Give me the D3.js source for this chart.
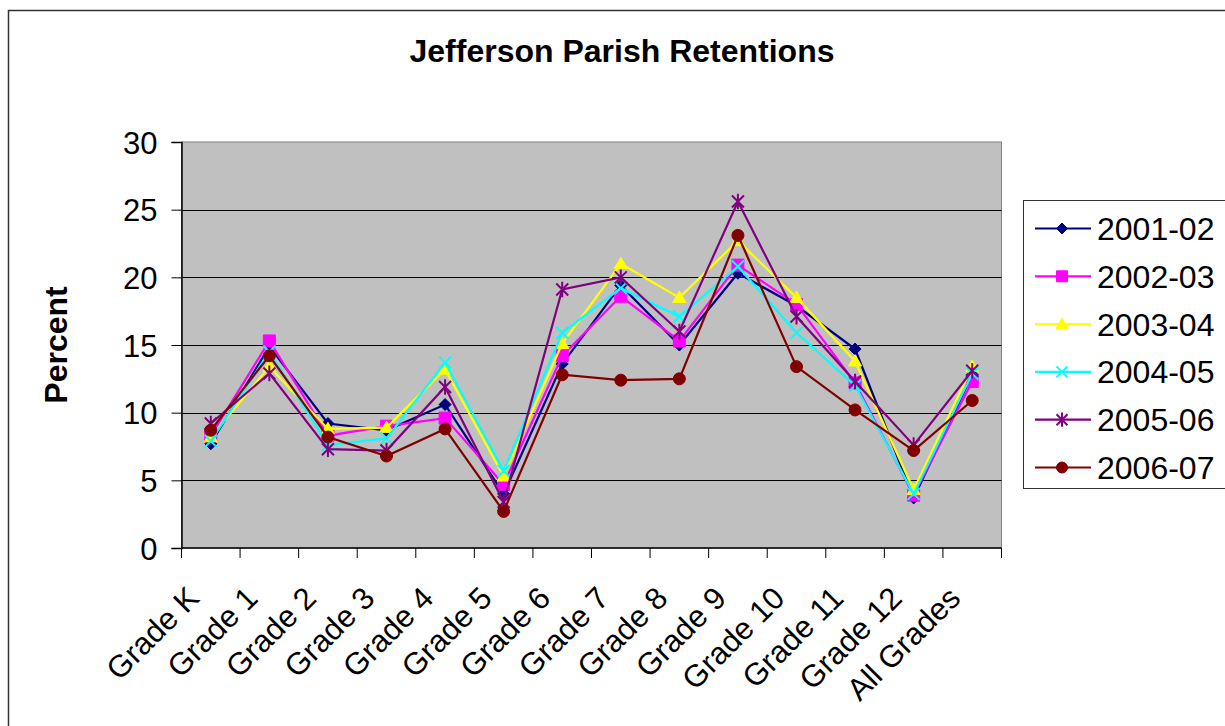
<!DOCTYPE html>
<html>
<head>
<meta charset="utf-8">
<script src="https://cdn.jsdelivr.net/npm/d3@7"></script>
<style>
    body { margin: 0; background: #fff; }
    svg text { font-family: Arial, "Liberation Sans", sans-serif; fill: #000; }
</style>
</head>
<body>
<div id="chart"></div>
<script>
(function () {
    "use strict";

    const categories = ["Grade K", "Grade 1", "Grade 2", "Grade 3", "Grade 4", "Grade 5", "Grade 6",
        "Grade 7", "Grade 8", "Grade 9", "Grade 10", "Grade 11", "Grade 12", "All Grades"];
    const yTicks = [0, 5, 10, 15, 20, 25, 30];

    const seriesNames = ["2001-02", "2002-03", "2003-04", "2004-05", "2005-06", "2006-07"];
    const v2001 = [7.7, 14.9, 9.2, 8.7, 10.6, 4.0, 13.6, 19.4, 15.0, 20.3, 17.9, 14.7, 3.7, 12.8];
    const v2002 = [8.3, 15.3, 8.3, 9.0, 9.6, 4.7, 14.2, 18.6, 15.3, 20.9, 18.0, 12.2, 3.9, 12.3];
    const v2003 = [8.2, 13.4, 8.8, 8.9, 13.2, 5.3, 15.1, 21.0, 18.5, 22.7, 18.5, 13.8, 4.3, 13.4];
    const v2004 = [7.9, 14.5, 7.6, 8.1, 13.7, 5.7, 15.9, 19.2, 17.1, 20.8, 15.9, 12.0, 4.0, 12.9];
    const v2005 = [9.2, 12.9, 7.3, 7.2, 11.9, 3.4, 19.1, 20.0, 16.0, 25.6, 17.1, 12.3, 7.6, 13.1];
    const v2006 = [8.7, 14.2, 8.2, 6.8, 8.8, 2.7, 12.8, 12.4, 12.5, 23.1, 13.4, 10.2, 7.2, 10.9];

    const seriesValues = [v2001, v2002, v2003, v2004, v2005, v2006];
    const colors = ["#000080", "#ff00ff", "#ffff00", "#00ffff", "#800080", "#800000"];
    const markers = ["diamond", "square", "triangle", "x", "star", "circle"];

    let width = 1225, height = 726;
    let plot = { left: 181.5, top: 142, right: 1001.5, bottom: 548 };

    let svg = d3.select("#chart").append("svg").attr("width", width).attr("height", height);

    // outer chart frame (right and bottom edges run off the picture)
    svg.append("rect")
        .attr("x", 8.5).attr("y", 10.5).attr("width", 1240).attr("height", 740)
        .attr("fill", "#fff").attr("stroke", "#333").attr("stroke-width", 1.5);

    let x = d3.scaleBand().domain(categories).range([plot.left, plot.right]);
    let y = d3.scaleLinear().domain([0, 30]).range([plot.bottom, plot.top]);
    let cx = (c) => x(c) + x.bandwidth() / 2;

    // plot area
    svg.append("rect")
        .attr("x", plot.left).attr("y", plot.top)
        .attr("width", plot.right - plot.left).attr("height", plot.bottom - plot.top)
        .attr("fill", "#c0c0c0").attr("stroke", "#808080").attr("stroke-width", 1);

    svg.append("g")
        .selectAll("line")
        .data(yTicks.filter((t) => t > 0 && t < 30))
        .enter()
        .append("line")
        .attr("x1", plot.left).attr("x2", plot.right)
        .attr("y1", (d) => Math.round(y(d)) + 0.5).attr("y2", (d) => Math.round(y(d)) + 0.5)
        .attr("stroke", "#000").attr("stroke-width", 1);

    // y axis
    let yAxis = svg.append("g")
        .attr("transform", `translate(${plot.left},0)`)
        .call(d3.axisLeft(y).tickValues(yTicks).tickSize(10).tickPadding(14));
    yAxis.select(".domain").attr("stroke", "#000").attr("stroke-width", 1.5);
    yAxis.selectAll(".tick line").attr("stroke", "#000");
    yAxis.selectAll(".tick text").attr("font-size", 31).attr("fill", "#000").attr("dy", "0.36em");

    // x axis: ticks sit on category boundaries
    let xAxis = svg.append("g").attr("transform", `translate(0,${plot.bottom})`);
    xAxis.append("line")
        .attr("x1", plot.left).attr("x2", plot.right)
        .attr("stroke", "#000").attr("stroke-width", 1.5);
    let bounds = categories.map((c) => x(c)).concat([plot.right]);
    xAxis.selectAll("line.tk")
        .data(bounds)
        .enter()
        .append("line")
        .attr("class", "tk")
        .attr("x1", (d) => d).attr("x2", (d) => d)
        .attr("y1", 0).attr("y2", 10)
        .attr("stroke", "#000");
    xAxis.selectAll("text")
        .data(categories)
        .enter()
        .append("text")
        .attr("transform", (d) => `translate(${cx(d) - 10},52) rotate(-45)`)
        .attr("text-anchor", "end")
        .attr("font-size", 31)
        .text((d) => d);

    // marker shapes
    let markerPath = (type, s) => {
        switch (type) {
            case "diamond":
                return `M0,${-s}L${s},0L0,${s}L${-s},0Z`;
            case "square":
                return `M${-s},${-s}H${s}V${s}H${-s}Z`;
            case "triangle":
                return `M0,${-s * 1.1}L${s * 1.1},${s * 0.8}L${-s * 1.1},${s * 0.8}Z`;
            case "x":
                return `M${-s},${-s}L${s},${s}M${s},${-s}L${-s},${s}`;
            case "star":
                return `M${-s},${-s}L${s},${s}M${s},${-s}L${-s},${s}M0,${-s * 1.3}V${s * 1.3}`;
            default:
                return d3.symbol().type(d3.symbolCircle).size(Math.PI * s * s)();
        }
    };
    let isStroke = (type) => type === "x" || type === "star";

    let line = d3.line().x((d) => cx(d.cat)).y((d) => y(d.v));

    seriesValues.forEach((vals, i) => {
        let pts = vals.map((v, j) => ({ cat: categories[j], v: v }));
        let g = svg.append("g");
        g.append("path")
            .datum(pts)
            .attr("d", line)
            .attr("fill", "none")
            .attr("stroke", colors[i])
            .attr("stroke-width", 2.2);
        g.selectAll("path.mk")
            .data(pts)
            .enter()
            .append("path")
            .attr("class", "mk")
            .attr("transform", (d) => `translate(${cx(d.cat)},${y(d.v)})`)
            .attr("d", markerPath(markers[i], 6))
            .attr("fill", isStroke(markers[i]) ? "none" : colors[i])
            .attr("stroke", colors[i])
            .attr("stroke-width", isStroke(markers[i]) ? 2 : 1);
    });

    // title and y label
    svg.append("text")
        .attr("x", 622).attr("y", 62)
        .attr("text-anchor", "middle")
        .attr("font-size", 32).attr("font-weight", "bold")
        .text("Jefferson Parish Retentions");

    svg.append("text")
        .attr("transform", "translate(67,345) rotate(-90)")
        .attr("text-anchor", "middle")
        .attr("font-size", 32).attr("font-weight", "bold")
        .text("Percent");

    // legend
    let legend = svg.append("g");
    legend.append("rect")
        .attr("x", 1023.5).attr("y", 200.5).attr("width", 240).attr("height", 288)
        .attr("fill", "#fff").attr("stroke", "#333").attr("stroke-width", 1);
    seriesNames.forEach((name, i) => {
        let ly = 228.5 + i * 47.8;
        legend.append("line")
            .attr("x1", 1035).attr("x2", 1091).attr("y1", ly).attr("y2", ly)
            .attr("stroke", colors[i]).attr("stroke-width", 2.2);
        legend.append("path")
            .attr("transform", `translate(1062,${ly})`)
            .attr("d", markerPath(markers[i], 5.5))
            .attr("fill", isStroke(markers[i]) ? "none" : colors[i])
            .attr("stroke", colors[i])
            .attr("stroke-width", isStroke(markers[i]) ? 2 : 1);
        legend.append("text")
            .attr("x", 1097).attr("y", ly).attr("dy", "0.36em")
            .attr("font-size", 32)
            .text(name);
    });
})();
</script>
</body>
</html>
